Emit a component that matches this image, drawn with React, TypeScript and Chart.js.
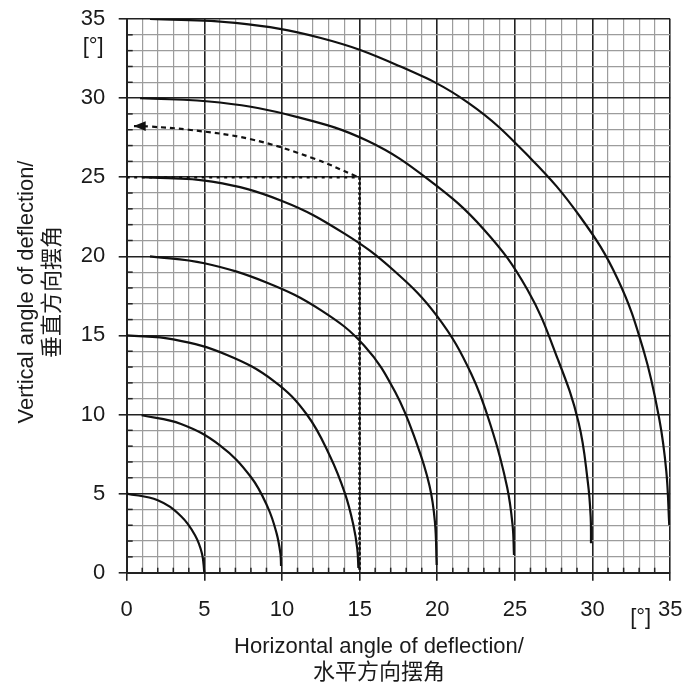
import { useEffect, useRef } from "react";
import { Chart, registerables } from "chart.js";

Chart.register(...registerables);

const FONT = '"Liberation Sans", Arial, "Noto Sans CJK SC", sans-serif';

// axis
const axisMin = 0;
const axisMax = 35;
const majorStep = 5;

// curves: constant combined deflection angle (5° ... 35°)
const curve5X = [0, 2, 3.5, 4.4, 4.85, 5.0];
const curve5Y = [5, 4.58, 3.57, 2.37, 1.2, 0];

const curve10X = [0.96, 3.5, 6, 8, 9.1, 9.65, 9.9, 9.94];
const curve10Y = [9.95, 9.4, 8.05, 6.05, 4.1, 2.5, 1.2, 0.42];

const curve15X = [0, 3, 6.5, 9.5, 11.6, 13.1, 14.06, 14.6, 14.85, 14.92];
const curve15Y = [15, 14.75, 13.75, 12.1, 10, 7.35, 5, 3, 1.5, 0.3];

const curve20X = [1.5, 5, 9, 12.5, 15.3, 17.3, 18.7, 19.5, 19.85, 19.96];
const curve20Y = [20, 19.56, 18.35, 16.6, 14.35, 11.4, 8.1, 5.5, 3.2, 0.49];

const curve25X = [1, 5.5, 10, 14, 17.2, 20, 22.2, 23.6, 24.5, 24.85, 24.94];
const curve25Y = [25, 24.72, 23.5, 21.45, 19.1, 16.2, 12.55, 8.8, 5.4, 3.0, 1.12];

const curve30X = [0.86, 6, 11, 15.5, 19.5, 23, 25.8, 27.8, 29.1, 29.7, 29.88, 29.9];
const curve30Y = [30, 29.72, 28.8, 27.3, 24.8, 21.7, 17.9, 13.4, 9.5, 5.7, 3.5, 1.86];

const curve35X = [1.5, 7, 12.5, 17.5, 22, 26, 29.2, 31.6, 33.3, 34.3, 34.75, 34.94];
const curve35Y = [35, 34.75, 33.8, 32.05, 29.7, 26.2, 22.5, 18.6, 14.0, 9.7, 6.4, 3.0];

// example: dotted guide lines and dashed arrow
const guideHX = [0, 15];
const guideHY = [25, 25];
const guideVX = [15, 15];
const guideVY = [25, 0];
const arrowX = [14.8, 12, 8, 4, 1.5, 0.45];
const arrowY = [25.05, 26.2, 27.4, 28.0, 28.2, 28.23];

// texts
const xTitle = ["Horizontal angle of deflection/", "水平方向摆角"];
const yTitle = ["Vertical angle of deflection/", "垂直方向摆角"];
const unitLabel = "[°]";
const unitPosX = 33.1;
const unitPosY = 33.2;

const pts = (xs: number[], ys: number[]) => xs.map((x, i) => ({ x, y: ys[i] }));

const curve = (xs: number[], ys: number[]) => ({
  data: pts(xs, ys),
  showLine: true,
  borderColor: "#111",
  borderWidth: 2.2,
  pointRadius: 0,
  tension: 0.4,
  fill: false,
});

const decor = {
  id: "decor",
  beforeDatasetsDraw(chart: any) {
    const { ctx, chartArea } = chart;
    const x = chart.scales.x;
    const y = chart.scales.y;
    ctx.save();
    ctx.strokeStyle = "#222";
    ctx.lineWidth = 1.5;
    x.ticks.forEach((t: any) => {
      if (t.value % majorStep === 0) return;
      const px = x.getPixelForValue(t.value);
      ctx.beginPath();
      ctx.moveTo(px, chartArea.bottom);
      ctx.lineTo(px, chartArea.bottom - 5);
      ctx.stroke();
    });
    y.ticks.forEach((t: any) => {
      if (t.value % majorStep === 0) return;
      const py = y.getPixelForValue(t.value);
      ctx.beginPath();
      ctx.moveTo(chartArea.left, py);
      ctx.lineTo(chartArea.left + 6, py);
      ctx.stroke();
    });
    ctx.restore();
  },
  afterDraw(chart: any) {
    const { ctx, chartArea } = chart;
    const x = chart.scales.x;
    const y = chart.scales.y;
    ctx.save();
    // arrow head at the end of the arrow path
    const n = arrowX.length;
    const tx = x.getPixelForValue(arrowX[n - 1]);
    const ty = y.getPixelForValue(arrowY[n - 1]);
    ctx.fillStyle = "#111";
    ctx.beginPath();
    ctx.moveTo(tx, ty);
    ctx.lineTo(tx + 12, ty - 4.8);
    ctx.lineTo(tx + 12, ty + 4.8);
    ctx.closePath();
    ctx.fill();

    ctx.fillStyle = "#1a1a1a";
    ctx.font = `22px ${FONT}`;
    // unit labels
    ctx.textAlign = "center";
    ctx.textBaseline = "alphabetic";
    ctx.fillText(unitLabel, x.getPixelForValue(unitPosX), chartArea.bottom + 51);
    ctx.textAlign = "right";
    ctx.fillText(unitLabel, chartArea.left - 23, y.getPixelForValue(unitPosY) + 5.5);

    // x title
    const cx = 379;
    ctx.textAlign = "center";
    ctx.textBaseline = "alphabetic";
    ctx.fillText(xTitle[0], cx, 652.7);
    ctx.textBaseline = "middle";
    ctx.fillText(xTitle[1], cx, 672.5);

    // y title
    const cy = 292;
    ctx.translate(0, cy);
    ctx.rotate(-Math.PI / 2);
    ctx.textAlign = "center";
    ctx.textBaseline = "alphabetic";
    ctx.fillText(yTitle[0], 0, 33);
    ctx.textBaseline = "middle";
    ctx.fillText(yTitle[1], 0, 53);
    ctx.restore();
  },
};

const isMajor = (v: number) => v % majorStep === 0;

export default function App() {
  const ref = useRef<HTMLCanvasElement | null>(null);
  useEffect(() => {
    if (!ref.current) return;
    const scaleCommon = (fit: (s: any) => void) => ({
      type: "linear" as const,
      min: axisMin,
      max: axisMax,
      afterFit: (s: any) => {
        fit(s);
        s.paddingLeft = 0;
        s.paddingRight = 0;
        s.paddingTop = 0;
        s.paddingBottom = 0;
      },
      border: { display: true, color: "#222", width: 2 },
      grid: {
        color: (c: any) => (isMajor(c.tick.value) ? "#222" : "#9c9c9c"),
        lineWidth: (c: any) => (isMajor(c.tick.value) ? 1.6 : 1.2),
        tickColor: (c: any) => (isMajor(c.tick.value) ? "#222" : "rgba(0,0,0,0)"),
        tickLength: 8,
        tickWidth: 1.6,
      },
      ticks: {
        stepSize: 1,
        autoSkip: false,
        maxRotation: 0,
        minRotation: 0,
        color: "#1a1a1a",
        font: { family: FONT, size: 22 },
        callback: (v: any) => (isMajor(Number(v)) ? String(v) : ""),
      },
    });
    const xs: any = scaleCommon((s: any) => {
      s.height = 112.3;
    });
    xs.ticks.padding = 16;
    const ys: any = scaleCommon((s: any) => {
      s.width = 126.7;
    });
    ys.ticks.padding = 13.5;

    const chart = new Chart(ref.current, {
      type: "scatter",
      data: {
        datasets: [
          curve(curve5X, curve5Y),
          curve(curve10X, curve10Y),
          curve(curve15X, curve15Y),
          curve(curve20X, curve20Y),
          curve(curve25X, curve25Y),
          curve(curve30X, curve30Y),
          curve(curve35X, curve35Y),
          {
            data: pts(guideHX, guideHY),
            showLine: true,
            borderColor: "#111",
            borderWidth: 2.6,
            borderDash: [3, 4.5],
            pointRadius: 0,
          },
          {
            data: pts(guideVX, guideVY),
            showLine: true,
            borderColor: "#111",
            borderWidth: 2.8,
            borderDash: [2.5, 2.5],
            pointRadius: 0,
          },
          {
            data: pts(arrowX, arrowY),
            showLine: true,
            borderColor: "#111",
            borderWidth: 2.2,
            borderDash: [5, 4],
            pointRadius: 0,
            tension: 0.4,
          },
        ] as any,
      },
      options: {
        animation: false,
        responsive: false,
        devicePixelRatio: 1,
        layout: { padding: { left: 0, top: 19, right: 13.8, bottom: 0 } },
        plugins: { legend: { display: false }, tooltip: { enabled: false }, title: { display: false } },
        scales: { x: xs, y: ys },
      },
      plugins: [decor],
    });
    return () => chart.destroy();
  }, []);
  return (
    <div style={{ position: "fixed", left: 0, top: 0, width: 684, height: 685, background: "#fff" }}>
      <canvas ref={ref} width={684} height={685} style={{ display: "block" }} />
    </div>
  );
}
